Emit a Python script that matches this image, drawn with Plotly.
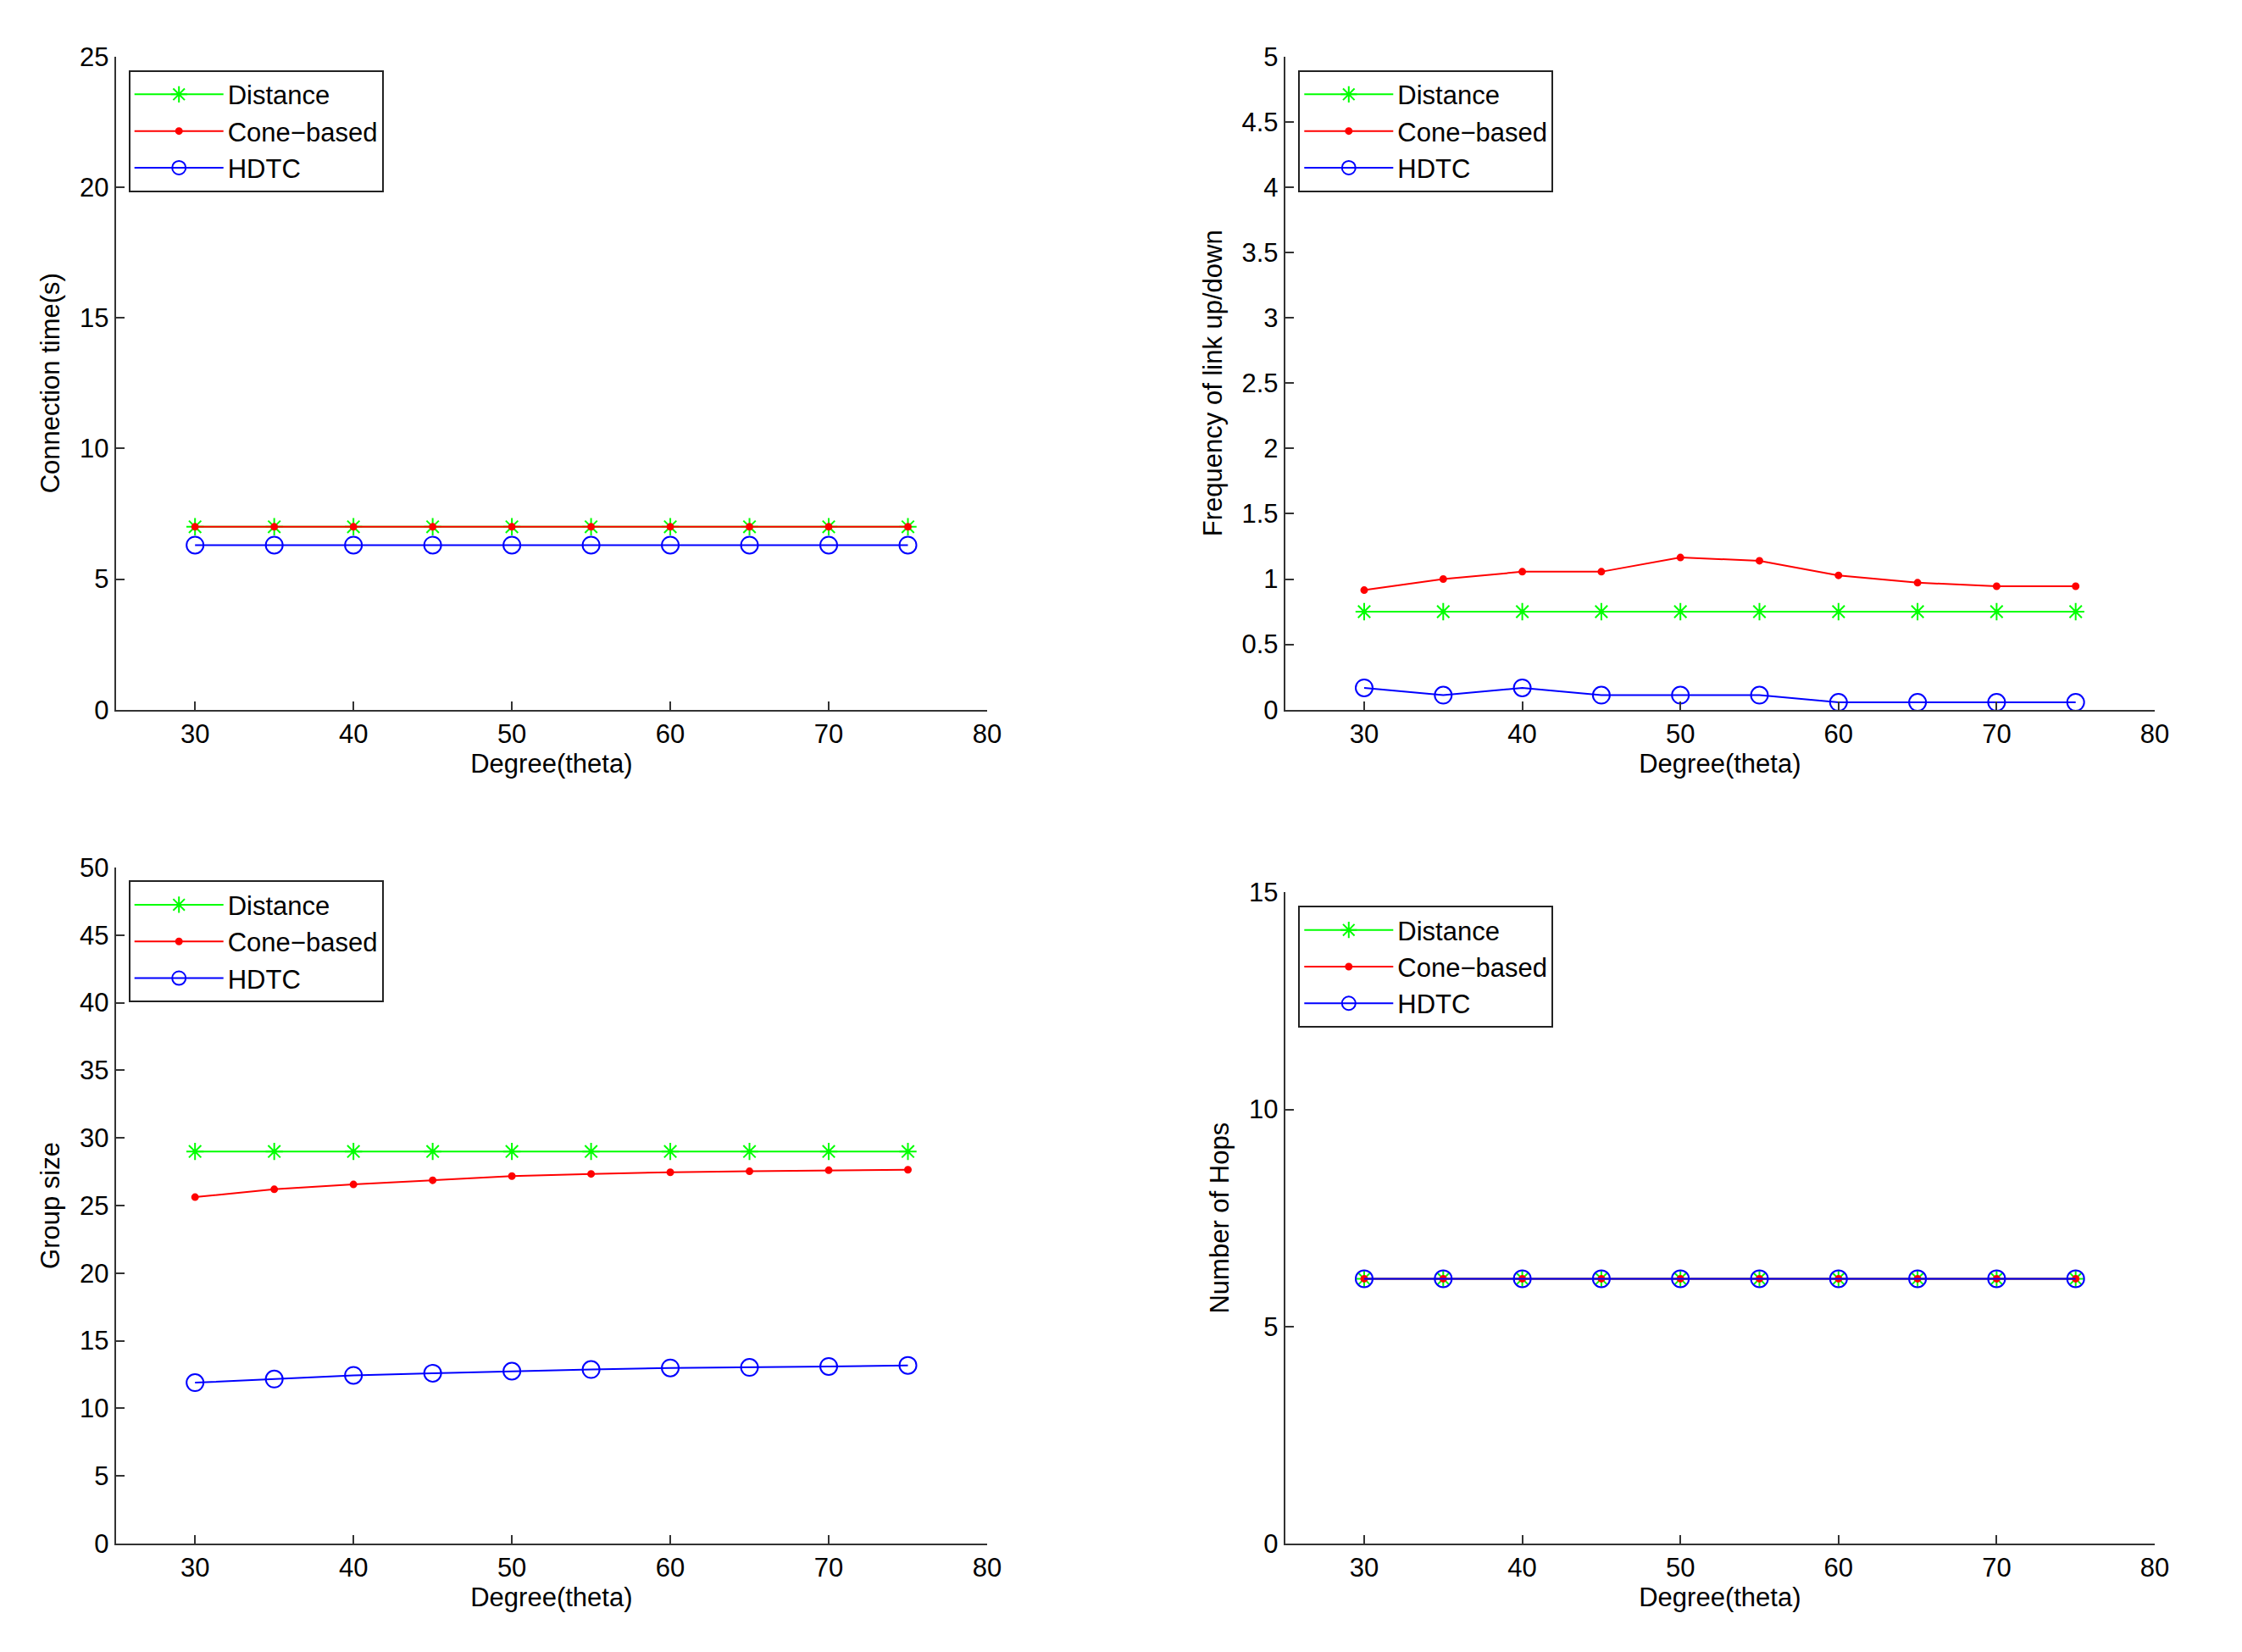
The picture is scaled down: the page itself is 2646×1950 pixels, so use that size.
import plotly.graph_objects as go

# ---------------- data ----------------
degrees = [30, 35, 40, 45, 50, 55, 60, 65, 70, 75]
series_names = ["Distance", "Cone−based", "HDTC"]

conn_distance = [7.0, 7.0, 7.0, 7.0, 7.0, 7.0, 7.0, 7.0, 7.0, 7.0]
conn_cone = [7.0, 7.0, 7.0, 7.0, 7.0, 7.0, 7.0, 7.0, 7.0, 7.0]
conn_hdtc = [6.3, 6.3, 6.3, 6.3, 6.3, 6.3, 6.3, 6.3, 6.3, 6.3]

freq_distance = [0.75, 0.75, 0.75, 0.75, 0.75, 0.75, 0.75, 0.75, 0.75, 0.75]
freq_cone = [0.915, 1.0, 1.056, 1.056, 1.165, 1.14, 1.028, 0.972, 0.945, 0.945]
freq_hdtc = [0.167, 0.111, 0.167, 0.111, 0.111, 0.111, 0.056, 0.056, 0.056, 0.056]

group_distance = [29.0, 29.0, 29.0, 29.0, 29.0, 29.0, 29.0, 29.0, 29.0, 29.0]
group_cone = [25.62, 26.2, 26.56, 26.87, 27.18, 27.34, 27.46, 27.53, 27.61, 27.65]
group_hdtc = [11.9, 12.17, 12.44, 12.6, 12.75, 12.87, 12.99, 13.03, 13.1, 13.18]

hops_distance = [6.1, 6.1, 6.1, 6.1, 6.1, 6.1, 6.1, 6.1, 6.1, 6.1]
hops_cone = [6.1, 6.1, 6.1, 6.1, 6.1, 6.1, 6.1, 6.1, 6.1, 6.1]
hops_hdtc = [6.1, 6.1, 6.1, 6.1, 6.1, 6.1, 6.1, 6.1, 6.1, 6.1]

x_title = "Degree(theta)"
y_titles = ["Connection time(s)", "Frequency of link up/down", "Group size", "Number of Hops"]
y_ranges = [[0, 25], [0, 5], [0, 50], [0, 15]]
y_dticks = [5, 0.5, 5, 5]
x_range = [25, 80]
x_ticks = [30, 40, 50, 60, 70, 80]

panels = [
    (conn_distance, conn_cone, conn_hdtc),
    (freq_distance, freq_cone, freq_hdtc),
    (group_distance, group_cone, group_hdtc),
    (hops_distance, hops_cone, hops_hdtc),
]

# ---------------- style ----------------
FONT = "Liberation Sans, Arial, Helvetica, sans-serif"
W, H = 2646, 1950
AXC = "#333333"

def px_x(p):
    return p / W

def px_y(p):
    return 1 - p / H

x_domains = [
    [px_x(136.7), px_x(1165)],
    [px_x(1516.7), px_x(2543)],
    [px_x(136.7), px_x(1165)],
    [px_x(1516.7), px_x(2543)],
]
y_domains = [
    [px_y(837.7), px_y(66.7)],
    [px_y(837.7), px_y(66.7)],
    [px_y(1822), px_y(1024)],
    [px_y(1822), px_y(1053.3)],
]
legend_pos = [
    (px_x(151.7), px_y(82.7)),
    (px_x(1532.3), px_y(82.7)),
    (px_x(151.7), px_y(1039.3)),
    (px_x(1532.3), px_y(1069)),
]

styles = [
    dict(color="#00ff00", symbol="asterisk-open", size=17),
    dict(color="#ff0000", symbol="circle", size=7),
    dict(color="#0000ff", symbol="circle-open", size=20),
]

fig = go.Figure()
legend_keys = ["legend", "legend2", "legend3", "legend4"]

for i, data in enumerate(panels):
    suffix = "" if i == 0 else str(i + 1)
    for j, ys in enumerate(data):
        st = styles[j]
        fig.add_trace(go.Scatter(
            x=degrees, y=ys, mode="lines+markers", name=series_names[j],
            xaxis="x" + suffix, yaxis="y" + suffix,
            legend=legend_keys[i],
            line=dict(color=st["color"], width=2),
            marker=dict(symbol=st["symbol"], size=st["size"], color=st["color"],
                        line=dict(color=st["color"], width=2)),
            cliponaxis=False,
        ))

common_axis = dict(
    showline=True, linecolor=AXC, linewidth=2,
    ticks="inside", ticklen=10, tickwidth=2, tickcolor=AXC,
    showgrid=False, zeroline=False, mirror=False, automargin=False,
    tickfont=dict(family=FONT, size=31, color="black"),
)

layout = dict(
    width=W, height=H,
    margin=dict(l=0, r=0, t=0, b=0, autoexpand=False),
    paper_bgcolor="white", plot_bgcolor="white",
    font=dict(family=FONT, size=30, color="black"),
    showlegend=True,
)

for i in range(4):
    suffix = "" if i == 0 else str(i + 1)
    layout["xaxis" + suffix] = dict(
        common_axis, domain=x_domains[i], range=x_range, tickvals=x_ticks,
        anchor="y" + suffix,
        title=dict(text=x_title, font=dict(family=FONT, size=31, color="black"), standoff=6),
    )
    layout["yaxis" + suffix] = dict(
        common_axis, domain=y_domains[i], range=y_ranges[i], dtick=y_dticks[i], tick0=0,
        anchor="x" + suffix,
        title=dict(text=y_titles[i], font=dict(family=FONT, size=31, color="black"), standoff=14),
    )
    lx, ly = legend_pos[i]
    layout[legend_keys[i]] = dict(
        x=lx, y=ly, xanchor="left", yanchor="top", xref="paper", yref="paper",
        bgcolor="white", bordercolor="#222222", borderwidth=2,
        font=dict(family=FONT, size=31, color="black"),
        tracegroupgap=0, itemwidth=105,
    )

fig.update_layout(**layout)

fig.write_html("out.html", config={"displayModeBar": False},
               post_script="document.body.style.margin='0';")
